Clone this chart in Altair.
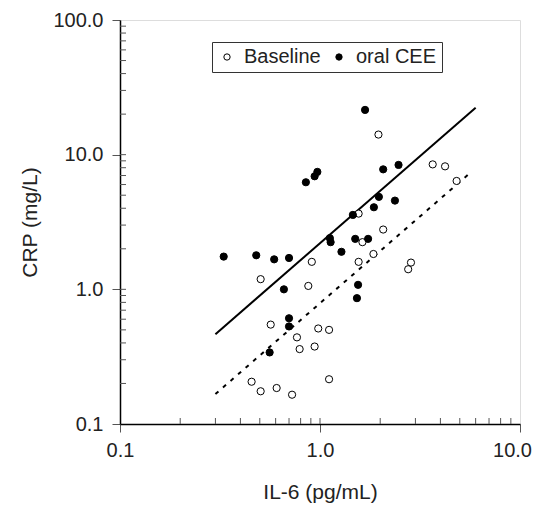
import altair as alt
import pandas as pd

# Data
baseline_x = [1.96, 3.66, 4.22, 4.82, 1.56, 2.07, 1.63, 1.85, 1.56, 0.91, 2.85, 2.76, 0.505,
              0.874, 0.567, 0.98, 1.11, 0.767, 0.791, 0.94, 1.11, 0.455, 0.505, 0.607, 0.725]
baseline_y = [14.1, 8.47, 8.19, 6.38, 3.65, 2.78, 2.24, 1.83, 1.60, 1.60, 1.58, 1.41, 1.19,
              1.06, 0.547, 0.512, 0.50, 0.44, 0.36, 0.376, 0.215, 0.206, 0.175, 0.185, 0.165]
cee_x = [0.33, 0.48, 0.59, 0.70, 0.85, 0.94, 0.97, 1.12, 1.13, 1.28, 1.46, 1.50, 1.74,
         1.86, 1.97, 2.07, 2.37, 2.47, 1.55, 1.53, 0.66, 1.68, 0.70, 0.70, 0.56]
cee_y = [1.75, 1.79, 1.67, 1.71, 6.24, 6.91, 7.45, 2.40, 2.24, 1.90, 3.57, 2.37, 2.37,
         4.07, 4.86, 7.78, 4.56, 8.39, 1.08, 0.86, 1.00, 21.5, 0.61, 0.53, 0.34]

# regression lines (end points)
solid_x = [0.30, 6.0]
solid_y = [0.464, 22.3]
dashed_x = [0.30, 5.5]
dashed_y = [0.167, 7.1]

x_major = [0.1, 1, 10]
y_major = [0.1, 1, 10, 100]
x_minor = [0.2, 0.3, 0.4, 0.5, 0.6, 0.7, 0.8, 0.9, 1, 2, 3, 4, 5, 6, 7, 8, 9]
y_minor = [0.2, 0.3, 0.4, 0.5, 0.6, 0.7, 0.8, 0.9, 1, 2, 3, 4, 5, 6, 7, 8, 9, 10,
           20, 30, 40, 50, 60, 70, 80, 90]

W, H = 400, 404
FONT = "Liberation Sans"

pts = pd.DataFrame({
    "x": baseline_x + cee_x,
    "y": baseline_y + cee_y,
    "group": ["Baseline"] * len(baseline_x) + ["oral CEE"] * len(cee_x),
})
lines = pd.DataFrame({
    "x": solid_x + dashed_x,
    "y": solid_y + dashed_y,
    "kind": ["solid"] * 2 + ["dashed"] * 2,
})

xs = alt.Scale(type="log", domain=[0.1, 10])
ys = alt.Scale(type="log", domain=[0.1, 100])

xaxis = alt.Axis(values=x_major, format=".1f", tickSize=8, labelFontSize=20,
                 titleFontSize=21, labelPadding=8, titlePadding=21, grid=False,
                 domainColor="black", domainWidth=1.5, tickColor="#555",
                 labelColor="#222", titleColor="#222", labelFont=FONT, titleFont=FONT,
                 titleFontWeight="normal", labelFlush=False,
                 labelOffset={"condition": {"test": "datum.value >= 10", "value": -8}, "value": 0})
yaxis = alt.Axis(values=y_major, format=".1f", tickSize=8, labelFontSize=20,
                 titleFontSize=21, labelPadding=9, titlePadding=12, grid=False,
                 domainColor="black", domainWidth=1.5, tickColor="#555",
                 labelColor="#222", titleColor="#222", labelFont=FONT, titleFont=FONT,
                 titleFontWeight="normal", labelFlush=False)

points = alt.Chart(pts).mark_point(filled=True, size=52, strokeWidth=1, stroke="black", opacity=1).encode(
    x=alt.X("x:Q", scale=xs, axis=xaxis, title="IL-6 (pg/mL)"),
    y=alt.Y("y:Q", scale=ys, axis=yaxis, title="CRP (mg/L)"),
    fill=alt.Fill("group:N", scale=alt.Scale(domain=["Baseline", "oral CEE"], range=["white", "black"]),
                  legend=alt.Legend(title=None, orient="none", legendX=92, legendY=22,
                                    direction="horizontal", strokeColor="#333", padding=5,
                                    labelFontSize=20, labelFont=FONT, labelColor="#222",
                                    symbolType="circle", symbolSize=40, symbolStrokeColor="black",
                                    symbolStrokeWidth=1, labelOffset=7, columnPadding=8,
                                    fillColor="white")),
)

solid = alt.Chart(lines[lines.kind == "solid"]).mark_line(color="black", strokeWidth=2).encode(
    x=alt.X("x:Q", scale=xs), y=alt.Y("y:Q", scale=ys))
dashed = alt.Chart(lines[lines.kind == "dashed"]).mark_line(color="black", strokeWidth=2,
                                                           strokeDash=[4, 6]).encode(
    x=alt.X("x:Q", scale=xs), y=alt.Y("y:Q", scale=ys))

xminor = alt.Chart(pd.DataFrame({"v": x_minor})).mark_rule(color="#555", strokeWidth=1).encode(
    x=alt.X("v:Q", scale=xs), y=alt.value(H), y2=alt.value(H - 6))
yminor = alt.Chart(pd.DataFrame({"v": y_minor})).mark_rule(color="#555", strokeWidth=1).encode(
    y=alt.Y("v:Q", scale=ys), x=alt.value(0), x2=alt.value(6))

chart = alt.layer(xminor, yminor, dashed, solid, points).properties(
    width=W, height=H,
    padding={"left": 112, "top": 12, "right": 13, "bottom": 84},
    autosize=alt.AutoSizeParams(type="none"),
).configure_view(stroke="#333", strokeWidth=1).configure(background="white")

chart.save("out.html", embed_options={"renderer": "svg", "actions": False})
